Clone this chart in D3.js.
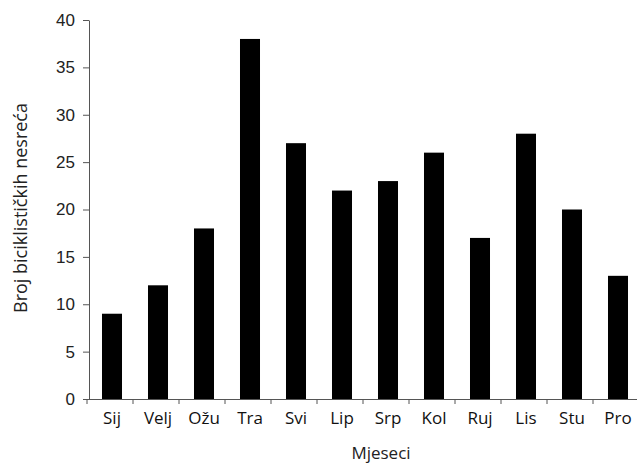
<!DOCTYPE html>
<html>
<head>
<meta charset="utf-8">
<script src="https://cdn.jsdelivr.net/npm/d3@7"></script>
<style>
  body { margin: 0; background: #fff; }
  .ytick text { font-family: "Liberation Sans", Arial, sans-serif; font-size: 17px; fill: #222; }
  .xtick text { font-family: "Open Sans", "DejaVu Sans", sans-serif; font-size: 17px; fill: #111; }
  .axis path, .axis line { stroke: #555; }
</style>
</head>
<body>
<div class="container"></div>
<script>
// mjeseci i broj nesreća
var months = ["Sij", "Velj", "Ožu", "Tra", "Svi", "Lip", "Srp", "Kol", "Ruj", "Lis", "Stu", "Pro"];
var accidents = [9, 12, 18, 38, 27, 22, 23, 26, 17, 28, 20, 13];
var yTicks = [0, 5, 10, 15, 20, 25, 30, 35, 40];

var width = 637,
    height = 465;
var margin = {top: 20, left: 89, bottom: 66, right: -4};

var svg = d3.select("div.container").append("svg")
    .attr("width", width)
    .attr("height", height);

var x = d3.scaleBand()
    .domain(months)
    .range([margin.left, width - margin.right])
    .paddingInner(0.565)
    .paddingOuter(0.2825);

var y = d3.scaleLinear()
    .domain([0, 40])
    .range([height - margin.bottom, margin.top]);

var data = months.map(function(m, i) { return {month: m, value: accidents[i]}; });

svg.selectAll(".bar")
    .data(data)
    .enter().append("rect")
    .attr("class", "bar")
    .attr("x", function(d) { return x(d.month); })
    .attr("width", x.bandwidth())
    .attr("y", function(d) { return y(d.value); })
    .attr("height", function(d) { return y(0) - y(d.value); })
    .attr("fill", "#000");

// y os
var yAxis = svg.append("g")
    .attr("class", "axis")
    .attr("transform", "translate(" + margin.left + ",0)")
    .call(d3.axisLeft(y).tickValues(yTicks).tickSize(6).tickPadding(8).tickSizeOuter(0));
yAxis.selectAll(".tick").attr("class", "tick ytick");

// x os - oznake ispod sredine stupca, crtice na granicama
var xAxis = svg.append("g")
    .attr("class", "axis")
    .attr("transform", "translate(0," + y(0) + ")")
    .call(d3.axisBottom(x).tickSize(0).tickPadding(13).tickSizeOuter(0));
xAxis.selectAll(".tick").attr("class", "tick xtick");
xAxis.select(".domain").attr("d", "M" + (margin.left - 6) + ",0.5H" + width);

var step = x.step();
var bounds = d3.range(months.length + 1).map(function(i) { return margin.left + i * step; });
xAxis.selectAll(".btick")
    .data(bounds)
    .enter().append("line")
    .attr("class", "btick")
    .attr("x1", function(d) { return d - 2; })
    .attr("x2", function(d) { return d - 2; })
    .attr("y1", 0)
    .attr("y2", 5)
    .attr("stroke", "#555");

svg.append("text")
    .attr("x", 381)
    .attr("y", 459)
    .attr("text-anchor", "middle")
    .style("font-family", "'Open Sans', 'DejaVu Sans', sans-serif")
    .style("font-size", "17px")
    .attr("fill", "#222")
    .text("Mjeseci");

svg.append("text")
    .attr("transform", "translate(27,208) rotate(-90)")
    .attr("text-anchor", "middle")
    .style("font-family", "'Open Sans', 'DejaVu Sans', sans-serif")
    .style("font-size", "18px")
    .attr("fill", "#222")
    .text("Broj biciklističkih nesreća");
</script>
</body>
</html>
